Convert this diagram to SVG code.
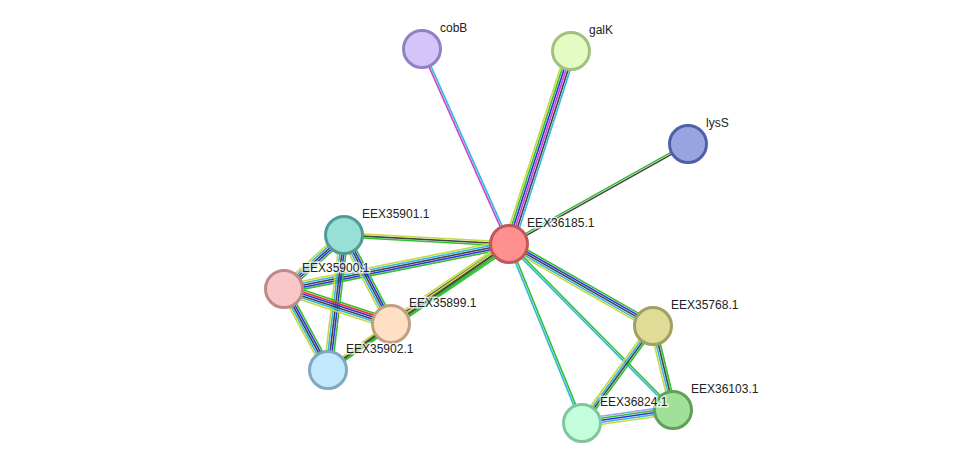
<svg xmlns="http://www.w3.org/2000/svg" width="976" height="469" viewBox="0 0 976 469">
<style>
line{stroke-width:1.6;fill:none}
.g{stroke:#30c030}.b{stroke:#3030e0}.k{stroke:#444}.c{stroke:#30b8e0}.y{stroke:#c8d840}.m{stroke:#d040d0}.r{stroke:#f03030}.l{stroke:#a0a0f8}
circle{stroke-width:3}
text{font-family:"Liberation Sans",Arial,sans-serif;font-size:12px;fill:#222;paint-order:stroke;stroke:#fff;stroke-width:3px;stroke-opacity:0.7}
</style>
<rect width="976" height="469" fill="#fff"/>
<g id="connectors">
<g transform="translate(509,244) rotate(-114)"><line class="m" x2="213.5" y1="-1" y2="-1"/><line class="c" x2="213.5" y1="1" y2="1"/></g>
<g transform="translate(509,244) rotate(-72.2)"><line class="y" x2="203" y1="-5" y2="-5"/><line class="g" x2="203" y1="-3" y2="-3"/><line class="b" x2="203" y1="-1" y2="-1"/><line class="m" x2="203" y1="1" y2="1"/><line class="k" x2="203" y1="3" y2="3"/><line class="c" x2="203" y1="5" y2="5"/></g>
<g transform="translate(509,244) rotate(-29.2)"><line class="g" x2="205" y1="-1" y2="-1"/><line class="k" x2="205" y1="1" y2="1"/></g>
<g transform="translate(509,244) rotate(-176.9)"><line class="g" x2="165" y1="-2" y2="-2"/><line class="k" x2="165" y1="0" y2="0"/><line class="y" x2="165" y1="2" y2="2"/></g>
<g transform="translate(509,244) rotate(168.7)"><line class="g" x2="229.5" y1="-4" y2="-4"/><line class="b" x2="229.5" y1="-2" y2="-2"/><line class="k" x2="229.5" y1="0" y2="0"/><line class="c" x2="229.5" y1="2" y2="2"/><line class="y" x2="229.5" y1="4" y2="4"/></g>
<g transform="translate(509,244) rotate(145.9)"><line class="g" x2="142.6" y1="-4" y2="-4"/><line class="g" x2="142.6" y1="-2" y2="-2"/><line class="k" x2="142.6" y1="0" y2="0"/><line class="k" x2="142.6" y1="2" y2="2"/><line class="y" x2="142.6" y1="4" y2="4"/></g>
<g transform="translate(509,244) rotate(145.2)"><line class="g" x2="220.5" y1="-2" y2="-2"/><line class="k" x2="220.5" y1="0" y2="0"/><line class="y" x2="220.5" y1="2" y2="2"/></g>
<g transform="translate(509,244) rotate(29.7)"><line class="g" x2="165.7" y1="-4" y2="-4"/><line class="b" x2="165.7" y1="-2" y2="-2"/><line class="k" x2="165.7" y1="0" y2="0"/><line class="c" x2="165.7" y1="2" y2="2"/><line class="y" x2="165.7" y1="4" y2="4"/></g>
<g transform="translate(509,244) rotate(45.3)"><line class="g" x2="233.4" y1="-1" y2="-1"/><line class="c" x2="233.4" y1="1" y2="1"/></g>
<g transform="translate(509,244) rotate(67.8)"><line class="g" x2="193.3" y1="-1" y2="-1"/><line class="c" x2="193.3" y1="1" y2="1"/></g>
<g transform="translate(344,235) rotate(138)"><line class="g" x2="80.7" y1="-4" y2="-4"/><line class="b" x2="80.7" y1="-2" y2="-2"/><line class="k" x2="80.7" y1="0" y2="0"/><line class="c" x2="80.7" y1="2" y2="2"/><line class="y" x2="80.7" y1="4" y2="4"/></g>
<g transform="translate(344,235) rotate(62.2)"><line class="g" x2="100.6" y1="-4" y2="-4"/><line class="b" x2="100.6" y1="-2" y2="-2"/><line class="k" x2="100.6" y1="0" y2="0"/><line class="c" x2="100.6" y1="2" y2="2"/><line class="y" x2="100.6" y1="4" y2="4"/></g>
<g transform="translate(344,235) rotate(96.8)"><line class="g" x2="135.9" y1="-4" y2="-4"/><line class="b" x2="135.9" y1="-2" y2="-2"/><line class="k" x2="135.9" y1="0" y2="0"/><line class="c" x2="135.9" y1="2" y2="2"/><line class="y" x2="135.9" y1="4" y2="4"/></g>
<g transform="translate(284,289) rotate(18.1)"><line class="g" x2="112.6" y1="-5" y2="-5"/><line class="r" x2="112.6" y1="-3" y2="-3"/><line class="b" x2="112.6" y1="-1" y2="-1"/><line class="k" x2="112.6" y1="1" y2="1"/><line class="c" x2="112.6" y1="3" y2="3"/><line class="y" x2="112.6" y1="5" y2="5"/></g>
<g transform="translate(284,289) rotate(61.5)"><line class="g" x2="92.2" y1="-4" y2="-4"/><line class="b" x2="92.2" y1="-2" y2="-2"/><line class="k" x2="92.2" y1="0" y2="0"/><line class="c" x2="92.2" y1="2" y2="2"/><line class="y" x2="92.2" y1="4" y2="4"/></g>
<g transform="translate(391,324) rotate(143.9)"><line class="g" x2="78" y1="-2" y2="-2"/><line class="k" x2="78" y1="0" y2="0"/><line class="y" x2="78" y1="2" y2="2"/></g>
<g transform="translate(653,326) rotate(76.6)"><line class="g" x2="86.3" y1="-3" y2="-3"/><line class="k" x2="86.3" y1="-1" y2="-1"/><line class="c" x2="86.3" y1="1" y2="1"/><line class="y" x2="86.3" y1="3" y2="3"/></g>
<g transform="translate(653,326) rotate(126.2)"><line class="g" x2="120.2" y1="-3" y2="-3"/><line class="k" x2="120.2" y1="-1" y2="-1"/><line class="c" x2="120.2" y1="1" y2="1"/><line class="y" x2="120.2" y1="3" y2="3"/></g>
<g transform="translate(582,423) rotate(-8.1)"><line class="l" x2="91.9" y1="-4" y2="-4"/><line class="g" x2="91.9" y1="-2" y2="-2"/><line class="b" x2="91.9" y1="0" y2="0"/><line class="c" x2="91.9" y1="2" y2="2"/><line class="y" x2="91.9" y1="4" y2="4"/></g>
</g>
<g id="n-EEX36185"><circle cx="509" cy="244" r="18.5" fill="#ff9090" stroke="#c05858"/><text x="527" y="227">EEX36185.1</text></g>
<g id="n-cobB"><circle cx="422" cy="49" r="18.5" fill="#d4c4fa" stroke="#9080c4"/><text x="440" y="32">cobB</text></g>
<g id="n-galK"><circle cx="571" cy="51" r="18.5" fill="#e2fcc4" stroke="#a4c080"/><text x="589" y="34">galK</text></g>
<g id="n-lysS"><circle cx="688" cy="144" r="18.5" fill="#98a4e0" stroke="#5060a8"/><text x="706" y="127">lysS</text></g>
<g id="n-EEX35901"><circle cx="344" cy="235" r="18.5" fill="#98e0d6" stroke="#509c94"/><text x="362" y="218">EEX35901.1</text></g>
<g id="n-EEX35900"><circle cx="284" cy="289" r="18.5" fill="#f8c8c8" stroke="#c08888"/><text x="302" y="272">EEX35900.1</text></g>
<g id="n-EEX35899"><circle cx="391" cy="324" r="18.5" fill="#ffe0c4" stroke="#c0a080"/><text x="409" y="307">EEX35899.1</text></g>
<g id="n-EEX35902"><circle cx="328" cy="370" r="18.5" fill="#c4e8fc" stroke="#80a8c0"/><text x="346" y="353">EEX35902.1</text></g>
<g id="n-EEX35768"><circle cx="653" cy="326" r="18.5" fill="#e0dc98" stroke="#a0a060"/><text x="671" y="309">EEX35768.1</text></g>
<g id="n-EEX36103"><circle cx="673" cy="410" r="18.5" fill="#a0e098" stroke="#60a058"/><text x="691" y="393">EEX36103.1</text></g>
<g id="n-EEX36824"><circle cx="582" cy="423" r="18.5" fill="#c4ffdc" stroke="#80c4a0"/><text x="600" y="406">EEX36824.1</text></g>
</svg>
